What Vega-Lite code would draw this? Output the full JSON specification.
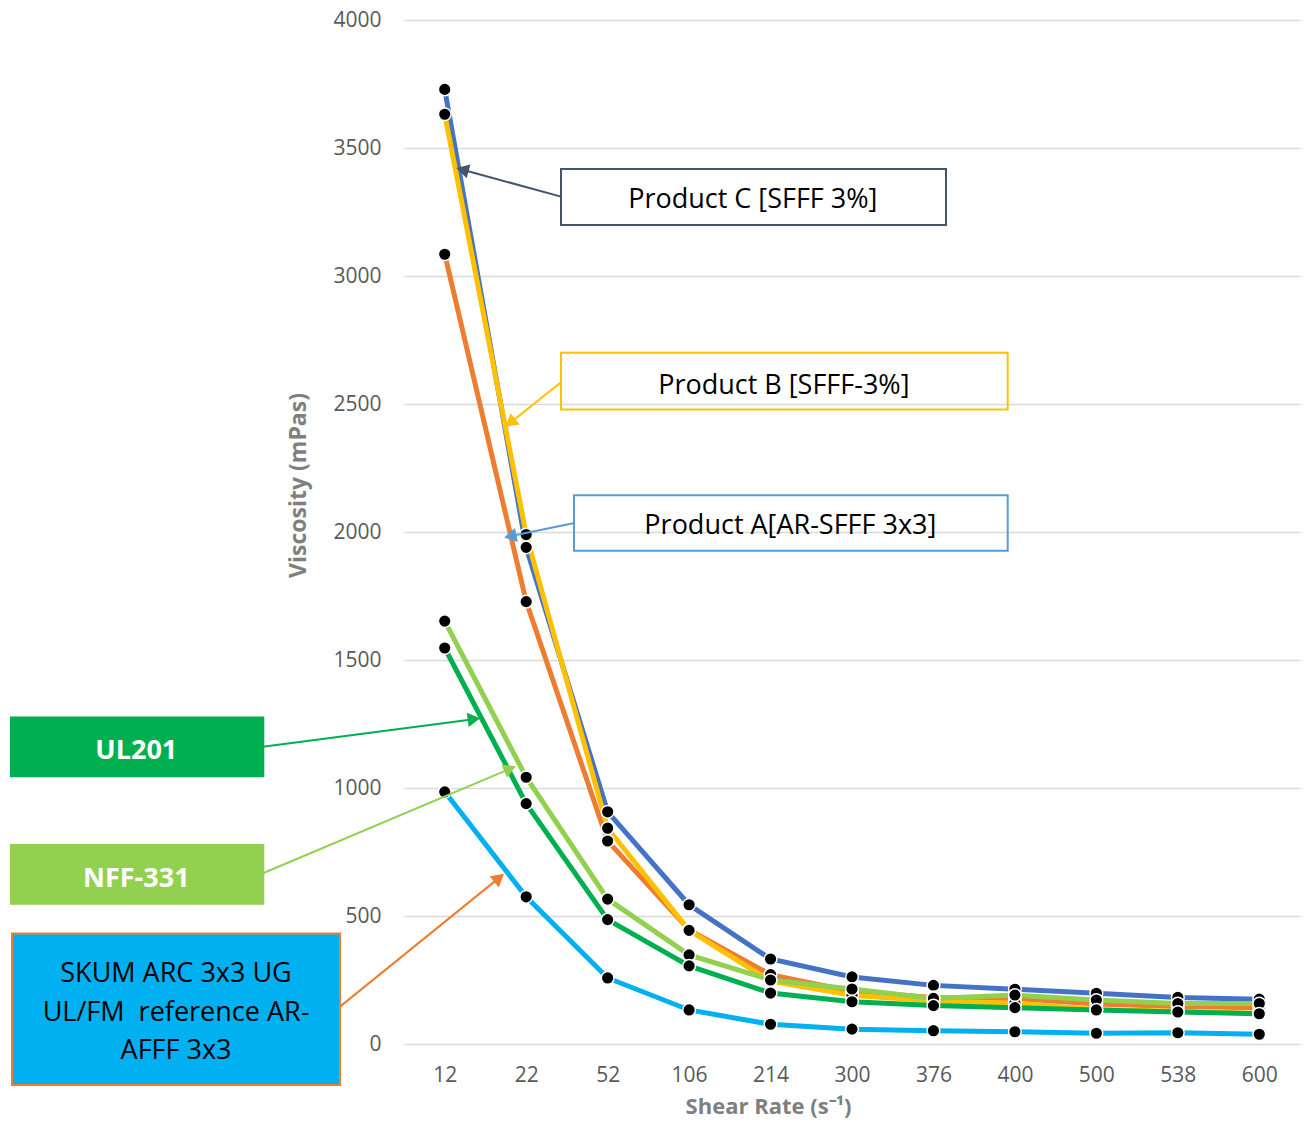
{
  "$schema": "https://vega.github.io/schema/vega-lite/v6.json",
  "width": 896,
  "height": 1024,
  "autosize": {"type": "none"},
  "padding": {"left": 404, "top": 20, "right": 6, "bottom": 79},
  "background": "white",
  "config": {"view": {"stroke": null}, "font": "Open Sans"},
  "datasets": {
    "viscosity": [
      {"series": "Product C", "rate": "12", "i": 0, "v": 3729},
      {"series": "Product C", "rate": "22", "i": 1, "v": 1940},
      {"series": "Product C", "rate": "52", "i": 2, "v": 907},
      {"series": "Product C", "rate": "106", "i": 3, "v": 544},
      {"series": "Product C", "rate": "214", "i": 4, "v": 332},
      {"series": "Product C", "rate": "300", "i": 5, "v": 262},
      {"series": "Product C", "rate": "376", "i": 6, "v": 229},
      {"series": "Product C", "rate": "400", "i": 7, "v": 214},
      {"series": "Product C", "rate": "500", "i": 8, "v": 198},
      {"series": "Product C", "rate": "538", "i": 9, "v": 182},
      {"series": "Product C", "rate": "600", "i": 10, "v": 175},
      {"series": "Product A", "rate": "12", "i": 0, "v": 3085},
      {"series": "Product A", "rate": "22", "i": 1, "v": 1728},
      {"series": "Product A", "rate": "52", "i": 2, "v": 793},
      {"series": "Product A", "rate": "106", "i": 3, "v": 446},
      {"series": "Product A", "rate": "214", "i": 4, "v": 271},
      {"series": "Product A", "rate": "300", "i": 5, "v": 205},
      {"series": "Product A", "rate": "376", "i": 6, "v": 182},
      {"series": "Product A", "rate": "400", "i": 7, "v": 178},
      {"series": "Product A", "rate": "500", "i": 8, "v": 156},
      {"series": "Product A", "rate": "538", "i": 9, "v": 146},
      {"series": "Product A", "rate": "600", "i": 10, "v": 142},
      {"series": "Product B", "rate": "12", "i": 0, "v": 3632},
      {"series": "Product B", "rate": "22", "i": 1, "v": 1990},
      {"series": "Product B", "rate": "52", "i": 2, "v": 843},
      {"series": "Product B", "rate": "106", "i": 3, "v": 444},
      {"series": "Product B", "rate": "214", "i": 4, "v": 246},
      {"series": "Product B", "rate": "300", "i": 5, "v": 190},
      {"series": "Product B", "rate": "376", "i": 6, "v": 168},
      {"series": "Product B", "rate": "400", "i": 7, "v": 159},
      {"series": "Product B", "rate": "500", "i": 8, "v": 135},
      {"series": "Product B", "rate": "538", "i": 9, "v": 128},
      {"series": "Product B", "rate": "600", "i": 10, "v": 120},
      {"series": "NFF-331", "rate": "12", "i": 0, "v": 1652},
      {"series": "NFF-331", "rate": "22", "i": 1, "v": 1042},
      {"series": "NFF-331", "rate": "52", "i": 2, "v": 566},
      {"series": "NFF-331", "rate": "106", "i": 3, "v": 348},
      {"series": "NFF-331", "rate": "214", "i": 4, "v": 250},
      {"series": "NFF-331", "rate": "300", "i": 5, "v": 215},
      {"series": "NFF-331", "rate": "376", "i": 6, "v": 178},
      {"series": "NFF-331", "rate": "400", "i": 7, "v": 191},
      {"series": "NFF-331", "rate": "500", "i": 8, "v": 172},
      {"series": "NFF-331", "rate": "538", "i": 9, "v": 158},
      {"series": "NFF-331", "rate": "600", "i": 10, "v": 158},
      {"series": "UL201", "rate": "12", "i": 0, "v": 1547},
      {"series": "UL201", "rate": "22", "i": 1, "v": 939},
      {"series": "UL201", "rate": "52", "i": 2, "v": 486},
      {"series": "UL201", "rate": "106", "i": 3, "v": 305},
      {"series": "UL201", "rate": "214", "i": 4, "v": 199},
      {"series": "UL201", "rate": "300", "i": 5, "v": 165},
      {"series": "UL201", "rate": "376", "i": 6, "v": 150},
      {"series": "UL201", "rate": "400", "i": 7, "v": 142},
      {"series": "UL201", "rate": "500", "i": 8, "v": 133},
      {"series": "UL201", "rate": "538", "i": 9, "v": 125},
      {"series": "UL201", "rate": "600", "i": 10, "v": 118},
      {"series": "SKUM", "rate": "12", "i": 0, "v": 985},
      {"series": "SKUM", "rate": "22", "i": 1, "v": 575},
      {"series": "SKUM", "rate": "52", "i": 2, "v": 258},
      {"series": "SKUM", "rate": "106", "i": 3, "v": 133},
      {"series": "SKUM", "rate": "214", "i": 4, "v": 77},
      {"series": "SKUM", "rate": "300", "i": 5, "v": 58},
      {"series": "SKUM", "rate": "376", "i": 6, "v": 52},
      {"series": "SKUM", "rate": "400", "i": 7, "v": 48},
      {"series": "SKUM", "rate": "500", "i": 8, "v": 42},
      {"series": "SKUM", "rate": "538", "i": 9, "v": 44},
      {"series": "SKUM", "rate": "600", "i": 10, "v": 38}
    ],
    "boxes": [
      {"name": "Product C", "x1": 1.4275, "x2": 6.154, "y1": 3418, "y2": 3199},
      {"name": "Product B", "x1": 1.4275, "x2": 6.9115, "y1": 2700, "y2": 2479},
      {"name": "Product A", "x1": 1.5871, "x2": 6.9115, "y1": 2144, "y2": 1927},
      {"name": "UL201", "x1": -5.3248, "x2": -2.2274, "y1": 1275, "y2": 1046},
      {"name": "NFF-331", "x1": -5.3248, "x2": -2.2274, "y1": 777, "y2": 548},
      {"name": "SKUM", "x1": -5.3125, "x2": -1.2857, "y1": 432, "y2": -160}
    ],
    "labels": [
      {"name": "Product C", "text": "Product C [SFFF 3%]", "x": 3.782, "y": 3297},
      {"name": "Product B", "text": "Product B [SFFF-3%]", "x": 4.163, "y": 2571},
      {"name": "Product A", "text": "Product A[AR-SFFF 3x3]", "x": 4.243, "y": 2024},
      {"name": "SKUM", "text": "SKUM ARC 3x3 UG\nUL/FM \u00a0reference AR-\nAFFF 3x3", "x": -3.299, "y": 273}
    ],
    "tags": [
      {"name": "UL201", "text": "UL201", "x": -3.7865, "y": 1146},
      {"name": "NFF-331", "text": "NFF-331", "x": -3.7865, "y": 645}
    ],
    "arrows": [
      {"name": "Product C", "x1": 1.4275, "y1": 3310, "x2": 0.2427, "y2": 3413},
      {"name": "Product B", "x1": 1.4275, "y1": 2585, "x2": 0.8247, "y2": 2432},
      {"name": "Product A", "x1": 1.5784, "y1": 2034, "x2": 0.8302, "y2": 1985},
      {"name": "UL201", "x1": -2.231, "y1": 1161, "x2": 0.3336, "y2": 1268},
      {"name": "NFF-331", "x1": -2.231, "y1": 667, "x2": 0.778, "y2": 1072},
      {"name": "SKUM", "x1": -1.2857, "y1": 146, "x2": 0.6479, "y2": 644}
    ]
  },
  "layer": [
    {
      "data": {"name": "viscosity"},
      "mark": {"type": "line", "strokeWidth": 5},
      "encoding": {
        "x": {
          "field": "i",
          "type": "quantitative",
          "scale": {"domain": [-0.5, 10.5], "nice": false, "zero": false},
          "axis": {
            "values": [0, 1, 2, 3, 4, 5, 6, 7, 8, 9, 10],
            "labelExpr": "['12','22','52','106','214','300','376','400','500','538','600'][datum.value]",
            "title": "Shear Rate (s⁻¹)",
            "grid": false,
            "ticks": false,
            "domain": false,
            "labelFontSize": 21,
            "labelColor": "#595959",
            "labelPadding": 20,
            "labelFlush": false,
            "labelOverlap": false,
            "labelBound": false,
            "titleFontSize": 22,
            "titleFontWeight": "bold",
            "titleColor": "#7F7F7F",
            "titleX": 364,
            "titleY": 62,
            "titleAlign": "center",
            "titleBaseline": "middle"
          }
        },
        "y": {
          "field": "v",
          "type": "quantitative",
          "scale": {"domain": [0, 4000], "nice": false},
          "axis": {
            "values": [0, 500, 1000, 1500, 2000, 2500, 3000, 3500, 4000],
            "format": "d",
            "title": "Viscosity (mPas)",
            "grid": true,
            "gridColor": "#D9D9D9",
            "gridWidth": 1.5,
            "ticks": false,
            "domain": false,
            "labelFontSize": 21,
            "labelColor": "#595959",
            "labelPadding": 23,
            "labelFlush": false,
            "titleFontSize": 23,
            "titleFontWeight": "bold",
            "titleColor": "#7F7F7F",
            "titleAngle": -90,
            "titleX": -106,
            "titleY": 465,
            "titleAlign": "center",
            "titleBaseline": "middle"
          }
        },
        "color": {
          "field": "series",
          "type": "nominal",
          "scale": {
            "domain": ["Product C", "Product A", "Product B", "NFF-331", "UL201", "SKUM"],
            "range": ["#4472C4", "#ED7D31", "#FFC000", "#92D050", "#00B050", "#00B0F0"]
          },
          "legend": null
        }
      }
    },
    {
      "data": {"name": "viscosity"},
      "mark": {"type": "point", "shape": "circle", "filled": true, "size": 160, "fill": "black", "stroke": "white", "strokeWidth": 1.5, "opacity": 1},
      "encoding": {
        "x": {"field": "i", "type": "quantitative"},
        "y": {"field": "v", "type": "quantitative"}
      }
    },
    {
      "data": {"name": "boxes"},
      "mark": {"type": "rect", "strokeWidth": 2},
      "encoding": {
        "x": {"field": "x1", "type": "quantitative"},
        "x2": {"field": "x2"},
        "y": {"field": "y1", "type": "quantitative"},
        "y2": {"field": "y2"},
        "fill": {
          "field": "name",
          "type": "nominal",
          "scale": {
            "domain": ["Product C", "Product B", "Product A", "UL201", "NFF-331", "SKUM"],
            "range": ["transparent", "transparent", "transparent", "#00B050", "#92D050", "#00B0F0"]
          },
          "legend": null
        },
        "stroke": {
          "field": "name",
          "type": "nominal",
          "scale": {
            "domain": ["Product C", "Product B", "Product A", "UL201", "NFF-331", "SKUM"],
            "range": ["#44546A", "#FFC000", "#5B9BD5", "#00B050", "#92D050", "#ED7D31"]
          },
          "legend": null
        }
      }
    },
    {
      "data": {"name": "arrows"},
      "mark": {"type": "rule", "strokeWidth": 2},
      "encoding": {
        "x": {"field": "x1", "type": "quantitative"},
        "x2": {"field": "x2"},
        "y": {"field": "y1", "type": "quantitative"},
        "y2": {"field": "y2"},
        "stroke": {"field": "name", "type": "nominal", "legend": null}
      }
    },
    {
      "data": {"name": "arrows"},
      "transform": [{"filter": "datum.name == 'Product C'"}],
      "mark": {"type": "point", "shape": "triangle", "filled": true, "size": 210, "angle": 285.3, "fill": "#44546A", "strokeWidth": 0, "opacity": 1},
      "encoding": {"x": {"field": "x2", "type": "quantitative"}, "y": {"field": "y2", "type": "quantitative"}}
    },
    {
      "data": {"name": "arrows"},
      "transform": [{"filter": "datum.name == 'Product B'"}],
      "mark": {"type": "point", "shape": "triangle", "filled": true, "size": 210, "angle": 231.5, "fill": "#FFC000", "strokeWidth": 0, "opacity": 1},
      "encoding": {"x": {"field": "x2", "type": "quantitative"}, "y": {"field": "y2", "type": "quantitative"}}
    },
    {
      "data": {"name": "arrows"},
      "transform": [{"filter": "datum.name == 'Product A'"}],
      "mark": {"type": "point", "shape": "triangle", "filled": true, "size": 210, "angle": 258.4, "fill": "#5B9BD5", "strokeWidth": 0, "opacity": 1},
      "encoding": {"x": {"field": "x2", "type": "quantitative"}, "y": {"field": "y2", "type": "quantitative"}}
    },
    {
      "data": {"name": "arrows"},
      "transform": [{"filter": "datum.name == 'UL201'"}],
      "mark": {"type": "point", "shape": "triangle", "filled": true, "size": 210, "angle": 82.5, "fill": "#00B050", "strokeWidth": 0, "opacity": 1},
      "encoding": {"x": {"field": "x2", "type": "quantitative"}, "y": {"field": "y2", "type": "quantitative"}}
    },
    {
      "data": {"name": "arrows"},
      "transform": [{"filter": "datum.name == 'NFF-331'"}],
      "mark": {"type": "point", "shape": "triangle", "filled": true, "size": 210, "angle": 67.1, "fill": "#92D050", "strokeWidth": 0, "opacity": 1},
      "encoding": {"x": {"field": "x2", "type": "quantitative"}, "y": {"field": "y2", "type": "quantitative"}}
    },
    {
      "data": {"name": "arrows"},
      "transform": [{"filter": "datum.name == 'SKUM'"}],
      "mark": {"type": "point", "shape": "triangle", "filled": true, "size": 210, "angle": 51.0, "fill": "#ED7D31", "strokeWidth": 0, "opacity": 1},
      "encoding": {"x": {"field": "x2", "type": "quantitative"}, "y": {"field": "y2", "type": "quantitative"}}
    },
    {
      "data": {"name": "labels"},
      "mark": {"type": "text", "fontSize": 27, "color": "#000000", "align": "center", "baseline": "middle", "lineBreak": "\n", "lineHeight": 38.5},
      "encoding": {
        "x": {"field": "x", "type": "quantitative"},
        "y": {"field": "y", "type": "quantitative"},
        "text": {"field": "text"}
      }
    },
    {
      "data": {"name": "tags"},
      "mark": {"type": "text", "fontSize": 27, "fontWeight": "bold", "color": "#FFFFFF", "align": "center", "baseline": "middle"},
      "encoding": {
        "x": {"field": "x", "type": "quantitative"},
        "y": {"field": "y", "type": "quantitative"},
        "text": {"field": "text"}
      }
    }
  ],
  "resolve": {"scale": {"stroke": "shared"}}
}
